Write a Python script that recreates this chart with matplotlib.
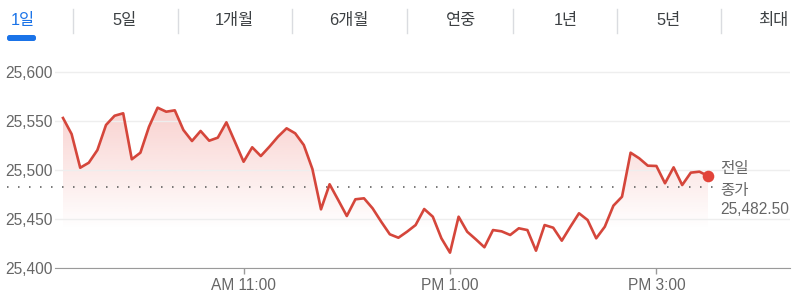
import matplotlib
matplotlib.use("Agg")
import matplotlib.pyplot as plt
import matplotlib.dates as mdates
from matplotlib.patches import Polygon, FancyBboxPatch
from matplotlib.lines import Line2D
from matplotlib.ticker import FuncFormatter
import numpy as np
import pandas as pd

plt.rcParams['font.family'] = ['Liberation Sans', 'Noto Sans CJK KR']

# data
tabs = ["1일", "5일", "1개월", "6개월", "연중", "1년", "5년", "최대"]
prices = [25552.9, 25536.6, 25502.3, 25507.4, 25520.3, 25545.8, 25555.2, 25557.7,
          25510.9, 25517.6, 25544.0, 25563.4, 25559.3, 25560.7, 25540.7, 25529.5,
          25539.7, 25529.8, 25532.9, 25548.5, 25528.5, 25508.4, 25523.1, 25514.2,
          25523.7, 25533.9, 25542.4, 25537.3, 25525.4, 25501.0, 25460.0, 25485.5,
          25469.5, 25453.2, 25470.2, 25471.2, 25461.0, 25447.4, 25434.6, 25431.1,
          25437.2, 25444.0, 25460.3, 25452.5, 25430.5, 25415.9, 25452.5, 25437.2,
          25429.5, 25421.4, 25438.9, 25437.6, 25433.9, 25440.7, 25438.9, 25417.9,
          25444.0, 25441.3, 25428.1, 25442.3, 25456.0, 25449.1, 25430.5, 25442.3,
          25463.7, 25472.8, 25517.6, 25511.9, 25504.4, 25504.1, 25486.5, 25502.7,
          25484.7, 25497.3, 25498.3, 25493.9]
prev_close = 25482.50
times = pd.date_range("2022-01-01 09:15", periods=len(prices), freq="5min")
tick_times = pd.to_datetime(["2022-01-01 11:00", "2022-01-01 13:00", "2022-01-01 15:00"])
tick_labels = ["AM 11:00", "PM 1:00", "PM 3:00"]
y_ticks = [25400, 25450, 25500, 25550, 25600]

red = '#d5463b'
W, H = 806, 308

fig = plt.figure(figsize=(W / 100, H / 100), dpi=100)
ax = fig.add_axes([55 / W, 1 - 268.3 / H, (790 - 55) / W, (268.3 - 60) / H])

x = mdates.date2num(times)
ax.plot(x, prices, color=red, lw=1.9, zorder=4)
ax.scatter([x[-1]], [prices[-1]], s=70, color='#e2443a', zorder=5, linewidths=0)

# gradient fill under the line
verts = [(x[0], 25400)] + list(zip(x, prices)) + [(x[-1], 25400)]
poly = Polygon(verts, facecolor='none', edgecolor='none')
ax.add_patch(poly)
top = max(prices)
yy = np.linspace(25400, top, 256)
grad = np.zeros((256, 1, 4))
grad[:, 0, :3] = matplotlib.colors.to_rgb('#e8534a')
grad[:, 0, 3] = np.clip((yy - 25440) / (25565 - 25440), 0, 1) * 0.27
img = ax.imshow(grad, extent=[x[0], x[-1], 25400, top], aspect='auto',
                origin='lower', zorder=1, interpolation='bilinear')
img.set_clip_path(poly)

# previous close dotted line
one_min = 1 / (24 * 60)
x0 = x[0] - 56 / 1.72 * one_min
x1 = x[0] + 651 / 1.72 * one_min
ax.plot([x0, x1], [prev_close, prev_close], color='#555555', lw=1.1,
        linestyle=(0, (1, 6.2)), clip_on=False, zorder=3)

ax.set_xlim(x[0] - 8 / 1.72 * one_min, x[0] + 727 / 1.72 * one_min)
ax.set_ylim(25400, 25600 + 11.7 * 1.0173)

ax.set_yticks(y_ticks)
ax.yaxis.set_major_formatter(FuncFormatter(lambda v, p: '{:,.0f}'.format(v)))
ax.grid(axis='y', color='#eeeeee', lw=1, zorder=0)
ax.set_xticks(mdates.date2num(tick_times))
ax.set_xticklabels(tick_labels)

for s in ['top', 'right', 'left']:
    ax.spines[s].set_visible(False)
ax.spines['bottom'].set_color('#9a9a9a')
ax.tick_params(axis='y', length=0, pad=2, labelsize=11.2, labelcolor='#666666')
ax.tick_params(axis='x', length=4.3, width=1, color='#9a9a9a', pad=3,
               labelsize=11.2, labelcolor='#666666')

# previous close label
fig.text(720 / W, 1 - 169 / H, "전일", fontsize=11.2, color='#666666', va='center')
fig.text(720 / W, 1 - 190 / H, "종가", fontsize=11.2, color='#666666', va='center')
fig.text(720 / W, 1 - 209.5 / H, "25,482.50", fontsize=11.2, color='#666666', va='center')

# period tabs
tab_x = [23, 125, 234.5, 349, 461, 565.5, 668.5, 773.5]
sep_x = [73, 177.5, 292, 407, 513, 617, 720.5]
for i, t in enumerate(tabs):
    fig.text(tab_x[i] / W, 1 - 20 / H, t, fontsize=11.8, ha='center', va='center',
             color='#1a73e8' if i == 0 else '#3c4043')
for sx in sep_x:
    fig.add_artist(Line2D([sx / W, sx / W], [1 - 9 / H, 1 - 33 / H], color='#dadce0', lw=1))
bar = FancyBboxPatch((7 / 100, (H - 41) / 100), 0.29, 0.06,
                     boxstyle="round,pad=0,rounding_size=0.025",
                     transform=fig.dpi_scale_trans, facecolor='#1a73e8', edgecolor='none')
fig.add_artist(bar)

fig.savefig("out.png", dpi=100)
